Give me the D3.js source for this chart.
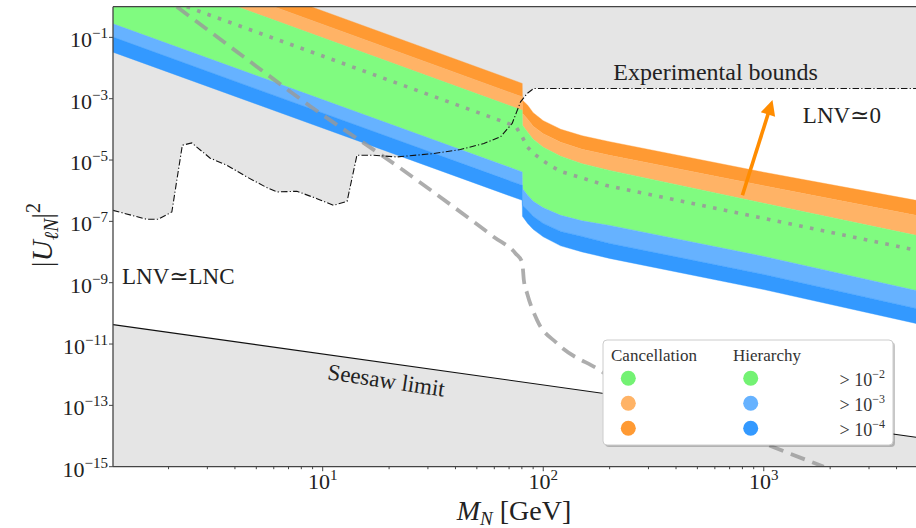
<!DOCTYPE html>
<html>
<head>
<meta charset="utf-8">
<script src="https://cdn.jsdelivr.net/npm/d3@7"></script>
<style>
  html, body { margin: 0; padding: 0; background: #fff; }
  svg { display: block; font-family: "Liberation Serif", "DejaVu Serif", serif; }
</style>
</head>
<body>
<svg id="chart" width="916" height="528"></svg>
<script>
// all curves as [M_N in GeV, |U|^2]
const expBound = [
  [1.12, 2.29e-7], [1.59, 1.17e-7], [1.79, 1.17e-7], [2.07, 2.02e-7], [2.31, 3.04e-5],
  [2.55, 3.61e-5], [3.09, 1.15e-5], [3.68, 6.76e-6], [4.53, 2.81e-6], [5.58, 1.26e-6],
  [6.2, 9.1e-7], [7.64, 9.6e-7], [9.42, 5.5e-7], [11.2, 3.34e-7], [12.9, 4.5e-7],
  [14.3, 1.44e-5], [17.0, 1.44e-5], [21.7, 1.26e-5], [31.9, 1.63e-5], [42.1, 2.2e-5],
  [53.8, 3.46e-5], [64.0, 5.7e-5], [72.3, 1.56e-4], [78.9, 7.9e-4], [84.6, 1.49e-3],
  [90.6, 2.16e-3], [4900, 2.16e-3]
];
const seesawLimit = [[1.12, 4.3e-11], [4900, 9.1e-15]];

// cancellation bands (orange), upper edges
const cancelTop = [[8.86, 1], [80.3, 3.15e-3], [80.5, 8.97e-4], [85, 6.17e-4], [90, 3.51e-4],
  [100, 1.92e-4], [120, 1.01e-4], [150, 6.2e-5], [200, 3.96e-5], [1000, 4.0e-6], [4900, 4.86e-7]];
const cancelMid = [[6.02, 1], [80.3, 1.15e-3], [80.5, 3.37e-4], [85, 2.15e-4], [90, 1.27e-4],
  [100, 7.2e-5], [120, 3.8e-5], [150, 2.25e-5], [200, 1.43e-5], [1000, 1.45e-6], [4900, 1.57e-7]];
const cancelLow = [[1.12, 1], [4.10, 1], [80.3, 4.2e-4], [80.5, 1.37e-4], [85, 8.1e-5], [90, 4.8e-5],
  [100, 2.6e-5], [120, 1.33e-5], [150, 7.6e-6], [200, 4.6e-6], [1000, 3.9e-7], [4900, 3.5e-8]];
// hierarchy bands (blue), lower edges
const hierTop = [[1.12, 0.277], [80.3, 4.09e-6], [80.5, 1.17e-6], [85, 7.1e-7], [90, 4.5e-7],
  [100, 2.77e-7], [120, 1.57e-7], [150, 1.04e-7], [200, 7.4e-8], [1000, 7.2e-9], [4900, 5.6e-10]];
const hierMid = [[1.12, 0.102], [80.3, 1.5e-6], [80.5, 3.34e-7], [85, 2.29e-7], [90, 1.46e-7],
  [100, 8.6e-8], [120, 4.7e-8], [150, 3.24e-8], [200, 1.91e-8], [1000, 1.86e-9], [4900, 1.45e-10]];
const hierLow = [[1.12, 3.3e-2], [80.3, 4.86e-7], [80.5, 1.46e-7], [85, 8.6e-8], [90, 5.5e-8],
  [100, 3.13e-8], [120, 1.59e-8], [150, 1.01e-8], [200, 6.2e-9], [1000, 6.0e-10], [4900, 4.7e-11]];

const dottedLine = [[2.42, 1], [74.9, 1.27e-4], [80.3, 5.7e-5], [84.6, 2.7e-5], [90.6, 1.63e-5],
  [99, 9.9e-6], [110, 6.0e-6], [122, 4.1e-6], [153, 2.5e-6], [192, 1.5e-6], [4900, 1.15e-8]];
const dashedLine = [[2.18, 1], [4.38, 2.33e-2], [8.78, 5.7e-4], [22.5, 5.4e-6], [59.7, 3.1e-8],
  [74.9, 9.0e-9], [80.3, 4.6e-9], [81.7, 1.19e-9], [84.6, 4.4e-10], [93.9, 5.9e-11],
  [115.8, 1.04e-11], [182, 1.36e-12], [276, 1.83e-13], [555, 3.2e-14], [1110, 4.3e-15], [1870, 1e-15]];

const arrowFrom = [800, 7.1e-7];
const arrowTo = [1095, 9.0e-4];

const xTickValues = [10, 100, 1000];
const yTickExponents = [-1, -3, -5, -7, -9, -11, -13, -15];
const legendCancelColors = ['#73f273', '#ffb366', '#ff9a33'];
const legendHierColors = ['#73f273', '#66b2ff', '#3399ff'];
const legendThresholds = ['−2', '−3', '−4'];

const GRAY = '#e5e5e5';
const plot = { left: 113, right: 916, top: 6.7, bottom: 466.7 };

const x = d3.scaleLog().domain([1.12, 4900]).range([plot.left, plot.right]);
const y = d3.scaleLog().domain([1e-15, 1]).range([plot.bottom, plot.top]);

const svg = d3.select('#chart');
svg.append('defs').append('clipPath').attr('id', 'plotClip')
  .append('rect')
  .attr('x', plot.left).attr('y', plot.top)
  .attr('width', plot.right - plot.left).attr('height', plot.bottom - plot.top);

const g = svg.append('g').attr('clip-path', 'url(#plotClip)');
const line = d3.line().x(d => x(d[0])).y(d => y(d[1]));

// excluded regions
g.append('path').datum(expBound)
  .attr('d', d3.area().x(d => x(d[0])).y0(y(1)).y1(d => y(d[1])))
  .attr('fill', GRAY);
g.append('path').datum(seesawLimit)
  .attr('d', d3.area().x(d => x(d[0])).y0(y(1e-15)).y1(d => y(d[1])))
  .attr('fill', GRAY);

// bands: upper edge forward, lower edge backward
const bands = [
  { upper: cancelTop, lower: cancelMid, color: '#ff9a33' },
  { upper: cancelMid, lower: cancelLow, color: '#ffb366' },
  { upper: cancelLow, lower: hierTop, color: '#80fb80' },
  { upper: hierTop, lower: hierMid, color: '#66b2ff' },
  { upper: hierMid, lower: hierLow, color: '#3399ff' }
];
bands.forEach(b => {
  g.append('path')
    .attr('d', line(b.upper.concat(b.lower.slice().reverse())) + 'Z')
    .attr('fill', b.color)
    .attr('stroke', b.color)
    .attr('stroke-width', 0.4);
});

// lines
g.append('path').datum(dottedLine)
  .attr('d', line)
  .attr('fill', 'none').attr('stroke', '#999').attr('stroke-opacity', 0.9)
  .attr('stroke-width', 3.6).attr('stroke-dasharray', '3.6,7.4');

g.append('path').datum(dashedLine)
  .attr('d', line.curve(d3.curveMonotoneX))
  .attr('fill', 'none').attr('stroke', '#999').attr('stroke-opacity', 0.8)
  .attr('stroke-width', 3.8).attr('stroke-dasharray', '15,8');
line.curve(d3.curveLinear);

g.append('path').datum(expBound)
  .attr('d', line)
  .attr('fill', 'none').attr('stroke', '#111').attr('stroke-width', 1.1)
  .attr('stroke-dasharray', '6.5,2.2,1.2,2.2');

g.append('path').datum(seesawLimit)
  .attr('d', line)
  .attr('fill', 'none').attr('stroke', '#111').attr('stroke-width', 1.1);

// arrow
const ax0 = x(arrowFrom[0]), ay0 = y(arrowFrom[1]);
const ax1 = x(arrowTo[0]), ay1 = y(arrowTo[1]);
const ang = Math.atan2(ay1 - ay0, ax1 - ax0);
const headLen = 15, headHalf = 7.5;
const bx = ax1 - headLen * Math.cos(ang), by = ay1 - headLen * Math.sin(ang);
g.append('line')
  .attr('x1', ax0).attr('y1', ay0).attr('x2', bx + 2 * Math.cos(ang)).attr('y2', by + 2 * Math.sin(ang))
  .attr('stroke', '#ff8c00').attr('stroke-width', 3.6);
g.append('path')
  .attr('d', `M${ax1},${ay1}L${bx - headHalf * Math.sin(ang)},${by + headHalf * Math.cos(ang)}` +
             `L${bx + headHalf * Math.sin(ang)},${by - headHalf * Math.cos(ang)}Z`)
  .attr('fill', '#ff8c00');

// annotations
const annot = svg.append('g').attr('fill', '#222').style('font-size', '23px');
annot.append('text').attr('x', x(605)).attr('y', y(4.0e-3)).attr('text-anchor', 'middle')
  .style('font-size', '24px')
  .text('Experimental bounds');
annot.append('text').attr('x', x(2260)).attr('y', y(1.6e-4)).attr('text-anchor', 'middle')
  .text('LNV≃0');
annot.append('text').attr('x', x(1.23)).attr('y', y(8.8e-10)).attr('text-anchor', 'start')
  .text('LNV≃LNC');
annot.append('text')
  .attr('transform', `translate(${x(19.2)},${y(3.7e-13)}) rotate(8.5)`)
  .attr('text-anchor', 'middle')
  .text('Seesaw limit');

// frame
const frame = svg.append('g').attr('stroke', '#444').attr('stroke-width', 1.3).attr('fill', 'none');
frame.append('line').attr('x1', plot.left).attr('x2', plot.right).attr('y1', plot.top).attr('y2', plot.top);
frame.append('line').attr('x1', plot.left).attr('x2', plot.right).attr('y1', plot.bottom).attr('y2', plot.bottom);
frame.append('line').attr('x1', plot.left).attr('x2', plot.left).attr('y1', plot.top).attr('y2', plot.bottom);

// x ticks
const minor = [];
[1, 10, 100, 1000].forEach(dec => {
  for (let k = 2; k <= 9; k++) {
    const v = k * dec;
    if (v >= 1.12 && v <= 4900) minor.push(v);
  }
});
const ticks = svg.append('g').attr('stroke', '#444').attr('stroke-width', 1);
minor.forEach(v => ticks.append('line')
  .attr('x1', x(v)).attr('x2', x(v)).attr('y1', plot.bottom).attr('y2', plot.bottom + 2.5));
xTickValues.forEach(v => ticks.append('line')
  .attr('x1', x(v)).attr('x2', x(v)).attr('y1', plot.bottom).attr('y2', plot.bottom + 4.5));
yTickExponents.forEach(e => ticks.append('line')
  .attr('x1', plot.left - 4).attr('x2', plot.left).attr('y1', y(Math.pow(10, e))).attr('y2', y(Math.pow(10, e))));

const labels = svg.append('g').attr('fill', '#222');
xTickValues.forEach(v => {
  const t = labels.append('text').attr('x', x(v)).attr('y', 489).attr('text-anchor', 'middle')
    .style('font-size', '22px');
  t.append('tspan').text('10');
  t.append('tspan').attr('dy', -9).style('font-size', '15px').text(String(Math.round(Math.log10(v))));
});
yTickExponents.forEach(e => {
  const t = labels.append('text').attr('x', 108).attr('y', y(Math.pow(10, e)) + 10)
    .attr('text-anchor', 'end').style('font-size', '22px');
  t.append('tspan').text('10');
  t.append('tspan').attr('dy', -9).style('font-size', '15px').text('−' + Math.abs(e));
});

// axis titles
const xt = labels.append('text').attr('x', 514).attr('y', 520).attr('text-anchor', 'middle')
  .style('font-size', '28px');
xt.append('tspan').style('font-style', 'italic').text('M');
xt.append('tspan').attr('dy', 5).style('font-style', 'italic').style('font-size', '19px').text('N');
xt.append('tspan').attr('dy', -5).text(' [GeV]');

const yt = labels.append('text').attr('transform', 'translate(52,235) rotate(-90)')
  .attr('text-anchor', 'middle').style('font-size', '29px');
yt.append('tspan').text('|');
yt.append('tspan').style('font-style', 'italic').text('U');
yt.append('tspan').attr('dy', 6).style('font-style', 'italic').style('font-size', '20px').text('ℓN');
yt.append('tspan').attr('dy', -6).text('|');
yt.append('tspan').attr('dy', -12).style('font-size', '20px').text('2');

// legend
const lg = svg.append('g').attr('transform', 'translate(603,340)');
lg.append('rect').attr('x', 2).attr('y', 2).attr('width', 290).attr('height', 105).attr('rx', 4)
  .attr('fill', '#000').attr('opacity', 0.22);
lg.append('rect').attr('width', 290).attr('height', 105).attr('rx', 4)
  .attr('fill', '#fff').attr('stroke', '#ccc').attr('stroke-width', 1);
lg.append('text').attr('x', 8).attr('y', 21).style('font-size', '17px').attr('fill', '#333').text('Cancellation');
lg.append('text').attr('x', 130).attr('y', 21).style('font-size', '17px').attr('fill', '#333').text('Hierarchy');
legendThresholds.forEach((th, i) => {
  const cy = 38.3 + i * 25;
  lg.append('circle').attr('cx', 25.3).attr('cy', cy).attr('r', 7.5).attr('fill', legendCancelColors[i]);
  lg.append('circle').attr('cx', 147.7).attr('cy', cy).attr('r', 7.5).attr('fill', legendHierColors[i]);
  const t = lg.append('text').attr('x', 282).attr('y', cy + 8).attr('text-anchor', 'end')
    .attr('fill', '#333').style('font-size', '18px');
  t.append('tspan').text('> 10');
  t.append('tspan').attr('dy', -8).style('font-size', '12px').text(th);
});
</script>
</body>
</html>
